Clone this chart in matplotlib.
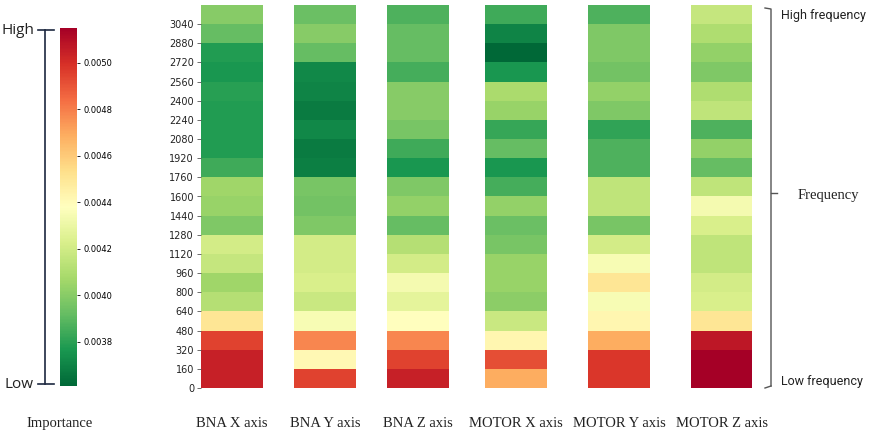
import numpy as np
import matplotlib
matplotlib.use("Agg")
import matplotlib.pyplot as plt
from matplotlib.lines import Line2D

# frequency bins (lower edge), bottom -> top
freqs = list(range(0, 3200, 160))
columns = ["BNA X axis", "BNA Y axis", "BNA Z axis",
           "MOTOR X axis", "MOTOR Y axis", "MOTOR Z axis"]

# importance per frequency bin, bottom (0 Hz) -> top (3040 Hz)
bna_x = [0.005042, 0.005042, 0.004950, 0.004503, 0.004118, 0.004057, 0.004164,
         0.004211, 0.003980, 0.004041, 0.004057, 0.003841, 0.003779, 0.003779,
         0.003779, 0.003795, 0.003764, 0.003779, 0.003918, 0.003995]
bna_y = [0.004950, 0.004411, 0.004780, 0.004349, 0.004180, 0.004226, 0.004211,
         0.004211, 0.003980, 0.003949, 0.003964, 0.003687, 0.003672, 0.003718,
         0.003672, 0.003702, 0.003718, 0.003918, 0.003995, 0.003933]
bna_z = [0.005042, 0.004950, 0.004780, 0.004380, 0.004272, 0.004334, 0.004211,
         0.004118, 0.003918, 0.004026, 0.003980, 0.003764, 0.003841, 0.003964,
         0.003995, 0.003995, 0.003856, 0.003918, 0.003918, 0.003872]
motor_x = [0.004688, 0.004919, 0.004426, 0.004180, 0.004010, 0.004041, 0.004041,
           0.003964, 0.003933, 0.004026, 0.003856, 0.003764, 0.003918, 0.003826,
           0.004041, 0.004087, 0.003764, 0.003610, 0.003702, 0.003841]
motor_y = [0.004981, 0.004981, 0.004688, 0.004426, 0.004349, 0.004503, 0.004349,
           0.004211, 0.003964, 0.004149, 0.004149, 0.003872, 0.003872, 0.003810,
           0.003980, 0.004026, 0.003949, 0.003980, 0.003980, 0.003872]
motor_z = [0.005150, 0.005150, 0.005073, 0.004503, 0.004226, 0.004211, 0.004149,
           0.004149, 0.004226, 0.004334, 0.004149, 0.003918, 0.004026, 0.003872,
           0.004149, 0.004103, 0.003980, 0.004026, 0.004103, 0.004164]

cbar_ticks = [0.0038, 0.0040, 0.0042, 0.0044, 0.0046, 0.0048, 0.0050]

W, H = 872, 436
VMIN, VMAX = 0.00361, 0.00515
CMAP = "RdYlGn_r"


def fx(x):
    return x / W


def fy(y):
    return 1 - y / H


fig = plt.figure(figsize=(W / 100, H / 100), dpi=100)

# heatmap columns
ax = fig.add_axes([fx(201), fy(388), (752 - 201) / W, (388 - 5) / H])
col_left = [0, 93, 186, 284, 387, 490]   # column positions (px from axes left)
col_w = 62
edges = np.arange(0, 3201, 160)
data = [bna_x, bna_y, bna_z, motor_x, motor_y, motor_z]
mesh = None
for x0, vals in zip(col_left, data):
    mesh = ax.pcolormesh([x0, x0 + col_w], edges, np.array(vals).reshape(-1, 1),
                         cmap=CMAP, vmin=VMIN, vmax=VMAX)
ax.set_xlim(0, 551)
ax.set_ylim(0, 3200)
ax.set_xticks([])
ax.set_yticks(freqs)
ax.set_yticklabels([str(f) for f in freqs], fontsize=7, color="#222222")
ax.tick_params(axis="y", length=3, width=0.6, color="#555555", pad=2)
for s in ax.spines.values():
    s.set_visible(False)

# column names below
for x0, name in zip(col_left, columns):
    fig.text(fx(201 + x0 + col_w / 2), fy(423), name, ha="center", va="center",
             fontsize=10.5, family="Liberation Serif", color="#222222")

# colorbar
cax = fig.add_axes([fx(60), fy(386), 17 / W, (386 - 28) / H])
cb = fig.colorbar(mesh, cax=cax)
cb.set_ticks(cbar_ticks)
cb.set_ticklabels([f"{t:.4f}" for t in cbar_ticks])
cb.ax.tick_params(labelsize=6, length=2.5, width=0.6, pad=2)
cb.outline.set_visible(False)

fig.text(fx(60), fy(423), "Importance", ha="center", va="center",
         fontsize=10.5, family="Liberation Serif", color="#222222")

# High / Low bracket on the left
navy = "#1c2840"
fig.add_artist(Line2D([fx(45), fx(45)], [fy(30), fy(384)], color=navy, lw=1.2))
fig.add_artist(Line2D([fx(38), fx(54)], [fy(30), fy(30)], color=navy, lw=1.2))
fig.add_artist(Line2D([fx(38), fx(54)], [fy(384), fy(384)], color=navy, lw=1.2))
fig.text(fx(34), fy(31), "High", ha="right", va="center", fontsize=11,
         family="Open Sans", color="#222222")
fig.text(fx(34), fy(384), "Low", ha="right", va="center", fontsize=11,
         family="Open Sans", color="#222222")

# frequency brace on the right
grey = "#555555"
fig.add_artist(Line2D([fx(765), fx(771), fx(771)], [fy(8), fy(9), fy(386)],
                      color=grey, lw=1.0))
fig.add_artist(Line2D([fx(771), fx(765)], [fy(386), fy(388)], color=grey, lw=1.0))
fig.add_artist(Line2D([fx(771), fx(777)], [fy(193), fy(193)], color=grey, lw=1.0))
fig.text(fx(781), fy(16), "High frequency", ha="left", va="center",
         fontsize=9, family="Roboto", color="#222222")
fig.text(fx(828), fy(195), "Frequency", ha="center", va="center",
         fontsize=10.5, family="Liberation Serif", color="#222222")
fig.text(fx(781), fy(381), "Low frequency", ha="left", va="center",
         fontsize=9, family="Roboto", color="#222222")

fig.savefig("out.png", dpi=100)
